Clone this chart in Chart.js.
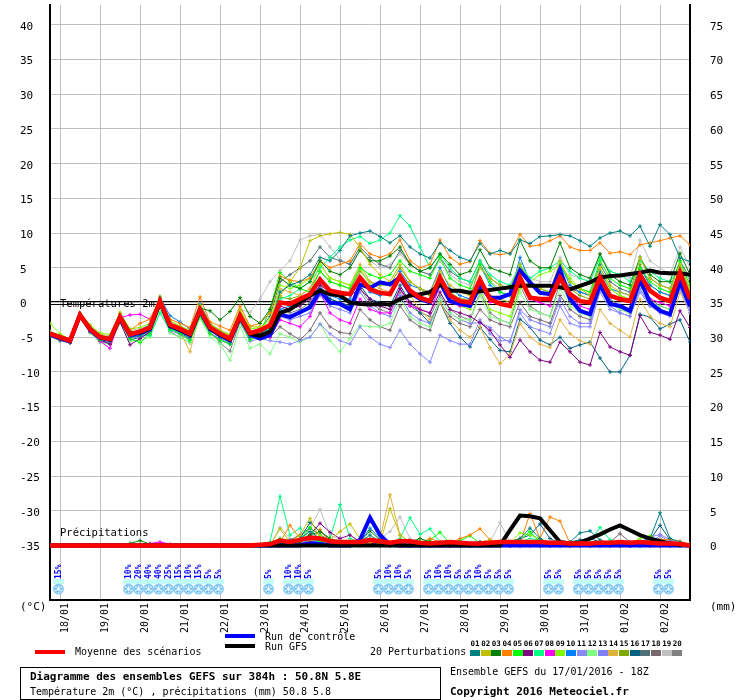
<!DOCTYPE html>
<html>
<head>
<meta charset="utf-8">
<script src="https://cdn.jsdelivr.net/npm/chart.js@4.4.1/dist/chart.umd.min.js"></script>
<style>
  body { margin: 0; background: #fff; }
  #wrap { position: relative; width: 740px; height: 700px; font-family: "DejaVu Sans Mono", monospace; color: #000; overflow: hidden; }
  #c { position: absolute; left: 0; top: 0; }
  .t { position: absolute; white-space: pre; font-size: 10px; line-height: 12px; }
  .b { font-weight: bold; font-size: 11px; }
  .ln { position: absolute; height: 4px; width: 30px; }
  .sw { position: absolute; top: 650px; height: 6px; width: 10px; }
  .num { position: absolute; top: 640px; font-size: 7.5px; font-weight: bold; line-height: 8px; width: 11px; text-align: center; }
  #box { position: absolute; left: 20px; top: 667px; width: 421px; height: 33px; box-sizing: border-box; border: 1px solid #000; }
</style>
</head>
<body>
<div id="wrap">
  <canvas id="c" width="740" height="700"></canvas>
  <div class="t" style="left:20px;top:601px;font-size:11px;">(°C)</div>
  <div class="t" style="left:710px;top:601px;font-size:11px;">(mm)</div>
  <div class="ln" style="left:225px;top:634px;background:#0000ff;"></div>
  <div class="t" style="left:265px;top:631px;">Run de contrôle</div>
  <div class="ln" style="left:225px;top:644px;background:#000;"></div>
  <div class="t" style="left:265px;top:641px;">Run GFS</div>
  <div class="ln" style="left:35px;top:650px;background:#ff0000;"></div>
  <div class="t" style="left:75px;top:646px;">Moyenne des scénarios</div>
  <div class="t" style="left:370px;top:646px;">20 Perturbations</div>
  <div id="swatches"></div>
  <div id="box"></div>
  <div class="t b" style="left:30px;top:671px;">Diagramme des ensembles GEFS sur 384h : 50.8N 5.8E</div>
  <div class="t" style="left:30px;top:686px;">Température 2m (°C) , précipitations (mm) 50.8 5.8</div>
  <div class="t" style="left:450px;top:666px;">Ensemble GEFS du 17/01/2016 - 18Z</div>
  <div class="t b" style="left:450px;top:686px;">Copyright 2016 Meteociel.fr</div>
</div>
<script>
// GEFS ensemble 17/01/2016 18Z, point 50.8N 5.8E — 2m temperature (°C) and precipitation (mm)
// one value every 6 h from +0 h to +384 h

const forecastHours = [0,6,12,18,24,30,36,42,48,54,60,66,72,78,84,90,96,102,108,114,120,126,132,138,144,150,156,162,168,174,180,186,192,198,204,210,216,222,228,234,240,246,252,258,264,270,276,282,288,294,300,306,312,318,324,330,336,342,348,354,360,366,372,378,384];

const dayTicks = [6,30,54,78,102,126,150,174,198,222,246,270,294,318,342,366];
const dayLabels = ['18/01','19/01','20/01','21/01','22/01','23/01','24/01','25/01','26/01','27/01','28/01','29/01','30/01','31/01','01/02','02/02'];
const tempTicks = [-35,-30,-25,-20,-15,-10,-5,0,5,10,15,20,25,30,35,40];
const precipTicks = [0,5,10,15,20,25,30,35,40,45,50,55,60,65,70,75];

// snow probability icons
const snowHours = [6, 48,54,60,66,72,78,84,90,96,102, 132, 144,150,156, 198,204,210,216, 228,234,240,246,252,258,264,270,276, 300,306, 318,324,330,336,342, 366,372];
const snowPct   = [15, 10,20,40,40,25,15,10,15,5,5, 5, 10,10,5, 5,10,10,5, 5,10,10,5,5,10,5,5,5, 5,5, 5,5,5,5,5, 5,5];

const memberColors = ['#008080','#c0c000','#008000','#ff8000','#00ff00','#800080','#00ff80','#ff00ff','#80ff00','#0080ff',
                      '#8888ff','#80ff80','#8080ff','#e0b040','#80a800','#006080','#507078','#786870','#c0c0c0','#808080'];

// ---- temperature 2m ----
const tempMean = [-4.5,-5.0,-5.5,-1.8,-3.8,-5.0,-5.3,-2.1,-4.6,-4.2,-3.6,0.2,-3.2,-3.8,-4.5,-1.0,-3.6,-4.5,-5.2,-1.9,-4.4,-4.0,
  -3.3,0.0,-0.2,0.5,1.2,3.3,1.7,1.4,1.2,3.6,1.9,1.4,1.2,3.8,1.7,0.7,0.2,3.6,1.0,0.2,0.0,3.3,0.5,-0.2,-0.5,3.6,0.7,0.5,0.5,3.6,1.2,0.2,0.0,3.6,1.0,0.5,0.2,4.0,1.7,0.7,0.2,4.3,0.5];
const tempControl = [-4.6,-5.1,-5.6,-1.8,-3.9,-5.1,-5.4,-2.2,-4.7,-4.4,-3.8,0.1,-3.4,-4.0,-4.7,-1.2,-3.8,-4.7,-5.4,-2.1,-4.6,-5.2,
  -4.7,-1.7,-2.1,-1.4,-0.7,1.7,0.0,-0.2,-1.0,2.6,2.1,2.9,2.6,3.6,1.4,0.5,0.0,2.9,0.2,-0.2,-0.5,2.4,0.7,0.7,1.2,4.6,2.9,1.4,1.2,4.8,0.5,-1.2,-1.7,2.6,-0.2,-0.5,-1.2,3.3,0.0,-1.2,-1.7,3.0,-0.5];
const tempGfs = [-4.5,-5.0,-5.5,-1.8,-3.8,-5.0,-5.3,-2.1,-4.5,-4.3,-3.7,0.1,-3.3,-3.9,-4.6,-1.1,-3.7,-4.6,-5.3,-2.0,-4.5,-4.8,
  -4.2,-1.5,-1.0,0.0,1.0,1.7,1.2,1.0,0.0,-0.2,-0.3,-0.2,-0.3,0.5,1.0,1.2,1.5,2.6,1.7,1.7,1.4,1.6,1.8,2.0,2.2,2.4,2.4,2.4,2.4,2.2,1.9,2.4,2.9,3.6,3.8,3.9,4.1,4.3,4.6,4.3,4.2,4.2,4.0];

const tempP01 = [-4.8,-5.2,-5.6,-1.9,-3.9,-5.2,-5.6,-2.4,-5.0,-4.8,-4.0,0.0,-3.6,-4.2,-5.0,-1.5,-4.0,-5.0,-5.8,-2.4,-5.0,-4.6,
  -3.5,1.5,2.5,3.0,4.0,6.5,6.0,7.5,9.6,10.0,10.3,9.5,8.6,9.6,8.0,7.0,6.4,8.6,7.5,6.5,6.0,8.5,7.0,7.5,7.0,9.0,8.5,9.5,9.6,9.8,9.6,8.9,8.1,9.3,10.0,10.3,9.6,11.0,8.1,11.2,9.8,6.4,5.9];
const tempP02 = [-4.2,-4.8,-5.4,-1.6,-3.5,-4.6,-5.0,-1.8,-4.2,-4.0,-3.3,0.4,-3.0,-3.5,-4.2,-0.6,-3.2,-4.0,-4.8,-1.2,-3.5,-3.5,
  -3.0,1.0,3.0,5.0,8.9,9.6,9.9,10.1,9.8,7.9,5.5,4.0,3.0,5.5,3.0,2.0,1.5,4.5,2.5,1.5,1.0,5.0,3.5,2.5,2.0,5.5,3.0,2.0,1.5,6.0,3.0,2.0,1.0,5.0,2.5,1.5,1.0,6.5,3.5,2.5,2.0,5.5,2.0];
const tempP03 = [-4.6,-5.1,-5.5,-1.7,-3.6,-5.0,-5.4,-2.0,-4.4,-4.6,-3.2,0.5,-3.0,-3.8,-4.4,-0.8,-1.2,-2.5,-1.3,0.7,-2.0,-3.0,
  -1.0,3.5,2.5,2.0,3.0,6.0,4.5,4.0,5.0,7.5,6.0,6.0,6.7,8.0,5.5,4.5,5.0,7.0,5.5,4.0,4.5,7.6,5.0,4.5,4.0,9.0,6.0,5.0,5.0,8.6,5.0,4.0,3.5,7.0,4.0,3.0,2.5,6.5,4.0,3.0,3.0,7.1,4.0];
const tempP04 = [-4.4,-5.0,-5.4,-1.6,-3.4,-4.8,-5.0,-1.6,-4.0,-3.0,-2.4,0.6,-2.4,-3.0,-3.6,0.8,-2.8,-3.4,-4.0,-0.5,-3.4,-3.0,
  -1.5,3.8,3.2,3.0,3.5,6.0,5.0,5.5,6.0,8.5,7.0,6.5,7.0,9.0,6.0,5.0,5.5,9.0,6.5,5.5,5.9,8.9,7.1,6.9,7.1,9.8,8.1,8.3,8.9,9.6,8.0,7.5,7.5,8.6,7.1,7.3,6.9,8.3,8.6,8.9,9.3,9.6,8.3];
const tempP05 = [-4.6,-5.2,-5.7,-2.0,-4.0,-5.4,-5.6,-2.6,-5.2,-5.8,-4.5,-0.5,-3.8,-4.5,-5.5,-2.0,-4.5,-5.4,-6.0,-2.6,-5.4,-4.5,
  -1.0,4.3,3.0,2.0,1.5,4.5,3.0,2.5,2.0,5.0,4.0,3.5,4.0,6.0,4.5,4.0,3.5,6.5,3.5,2.5,2.0,5.5,3.0,1.5,1.0,5.0,2.5,2.0,1.5,5.5,3.0,2.0,1.5,6.0,3.5,2.5,2.0,5.0,3.0,2.0,1.5,6.0,2.5];
const tempP06 = [-4.8,-5.4,-5.8,-2.2,-4.2,-5.4,-6.0,-2.8,-6.1,-5.2,-4.2,-0.2,-3.6,-4.0,-4.8,-1.5,-4.0,-5.0,-5.6,-2.4,-4.8,-4.4,
  -3.5,-0.5,-1.0,-0.5,0.5,2.5,1.5,1.0,1.0,2.0,0.5,-0.5,-1.0,2.0,0.0,-1.0,-1.5,1.5,-1.0,-1.5,-2.0,-2.9,-4.0,-6.1,-7.9,-5.4,-7.1,-8.3,-8.6,-5.7,-7.1,-8.6,-9.0,-4.3,-6.4,-7.1,-7.6,-1.9,-4.3,-4.7,-5.3,-1.2,-3.6];
const tempP07 = [-4.5,-5.0,-5.5,-1.7,-3.7,-4.8,-5.2,-2.0,-4.4,-4.6,-4.8,-1.5,-4.0,-4.0,-4.6,-1.0,-3.8,-4.6,-5.4,-1.8,-4.6,-4.2,
  -3.8,0.5,1.0,2.0,3.0,5.0,6.5,8.0,9.0,9.5,8.5,9.0,10.0,12.5,11.0,8.0,5.0,7.0,5.0,3.5,3.0,6.0,4.0,3.0,2.5,5.5,3.5,4.5,5.0,6.0,4.5,3.5,3.0,6.5,4.5,4.0,3.0,6.0,4.5,3.5,3.0,5.0,2.0];
const tempP08 = [-4.4,-4.9,-5.4,-1.6,-3.8,-5.6,-6.6,-2.2,-1.8,-1.7,-2.4,0.4,-3.0,-3.6,-4.2,-0.8,-3.4,-4.4,-5.0,-1.6,-4.2,-4.8,
  -5.0,-2.5,-3.0,-3.5,-2.0,1.5,-1.5,-2.5,-3.0,0.5,-1.0,-1.5,-1.5,2.0,-0.5,-1.0,-1.5,2.5,0.0,-0.5,-0.5,2.5,0.0,0.0,-0.5,3.5,0.5,0.0,-0.5,4.8,1.0,-0.5,-1.0,3.0,0.0,-0.5,-1.0,3.5,0.5,0.0,-0.5,3.0,0.0];
const tempP09 = [-3.0,-4.5,-5.3,-1.5,-3.2,-4.4,-4.6,-1.4,-3.8,-3.6,-3.0,0.9,-2.6,-3.4,-4.0,-0.4,-3.0,-4.0,-4.6,-1.0,-3.8,-3.6,
  -2.5,2.5,2.0,2.5,3.5,5.5,3.5,3.0,2.5,5.0,2.5,1.5,1.0,4.0,1.5,0.5,0.0,3.0,0.5,-0.5,-1.0,2.0,-1.0,-1.5,-2.0,2.0,3.0,4.0,4.5,5.5,3.5,2.0,1.5,5.0,2.0,1.0,0.5,4.0,1.5,0.5,0.0,3.5,1.0];
const tempP10 = [-4.6,-5.2,-5.6,-1.8,-4.0,-5.2,-5.4,-1.9,-4.4,-4.0,-3.2,0.8,-1.9,-2.8,-3.8,-0.2,-3.0,-4.2,-5.0,-1.6,-4.2,-4.2,
  -4.0,-1.0,-0.5,0.0,1.0,3.5,1.0,0.5,0.5,3.5,1.5,1.0,1.5,4.5,2.5,2.0,1.5,5.0,2.0,1.0,0.5,5.5,2.5,1.5,1.0,6.5,3.0,2.0,1.5,5.5,2.5,1.5,1.0,4.5,2.0,1.5,1.0,5.0,2.5,1.5,1.0,4.5,1.0];
const tempP11 = [-4.7,-5.3,-5.6,-2.0,-4.2,-5.6,-5.8,-2.6,-5.0,-5.0,-4.6,-0.6,-4.0,-4.6,-5.4,-1.8,-4.4,-5.2,-6.0,-2.8,-5.6,-5.2,
  -5.5,-5.7,-6.0,-5.5,-5.0,-3.1,-4.5,-5.5,-6.0,-3.5,-5.0,-6.0,-6.5,-4.0,-6.0,-7.4,-8.6,-4.7,-5.5,-6.0,-6.0,-2.5,-4.5,-5.5,-5.5,-1.5,-3.5,-4.0,-4.5,-0.5,-3.0,-3.5,-3.5,1.5,-1.0,-1.5,-2.0,2.0,-0.5,-1.0,-1.5,2.5,-1.0];
const tempP12 = [-4.8,-5.4,-5.8,-2.2,-4.4,-5.8,-6.0,-3.0,-5.6,-5.4,-5.0,-1.0,-4.4,-5.0,-5.8,-2.2,-5.0,-6.0,-8.3,-3.4,-6.6,-6.0,
  -7.4,-4.5,-5.0,-5.7,-5.0,-3.1,-5.5,-7.1,-5.2,-3.3,-3.5,-3.5,-3.0,0.5,-2.0,-3.0,-3.5,0.5,-1.5,-2.5,-2.5,1.0,-2.0,-2.5,-3.0,1.5,-1.0,-1.5,-2.0,2.0,-0.5,-1.5,-2.0,2.5,0.0,-1.0,-1.5,2.0,0.0,-0.5,-1.0,3.0,0.0];
const tempP13 = [-4.6,-5.1,-5.5,-1.9,-3.8,-5.0,-5.2,-2.3,-4.8,-4.4,-3.8,0.0,-3.4,-4.0,-4.8,-1.2,-3.8,-4.8,-5.4,-2.2,-4.8,-4.5,
  -4.5,-2.0,-2.5,-2.0,-1.5,1.0,-0.5,-1.0,-1.5,1.5,-0.5,-1.5,-2.0,1.0,-1.5,-2.5,-3.0,0.5,-1.5,-2.5,-3.0,-2.9,-3.6,-5.0,-5.7,-1.0,-2.5,-3.0,-3.5,0.5,-2.0,-3.0,-3.0,2.0,-0.5,-1.5,-2.0,1.5,-0.5,-1.5,-2.0,2.0,-1.5];
const tempP14 = [-4.4,-5.0,-5.4,-1.8,-3.6,-4.8,-5.0,-2.0,-4.6,-4.0,-3.4,0.2,-3.4,-4.2,-7.1,-1.4,-4.0,-4.8,-5.4,-2.0,-4.5,-4.0,
  -3.0,2.0,1.5,1.0,2.0,5.5,3.5,3.0,2.5,5.5,3.0,2.0,1.5,4.0,1.0,-1.0,-2.5,0.0,-2.5,-4.0,-5.0,-3.5,-6.5,-8.8,-7.5,-3.0,-5.0,-6.0,-6.5,-2.5,-4.5,-5.5,-6.0,-1.0,-3.0,-4.0,-5.0,0.5,-2.0,-3.0,-3.5,1.5,-1.5];
const tempP15 = [-4.5,-5.1,-5.5,-1.8,-3.8,-5.1,-5.4,-2.1,-4.6,-4.3,-3.6,0.3,-3.2,-3.8,-4.5,-1.0,-3.6,-4.6,-5.2,-1.8,-4.4,-4.0,
  -3.0,0.8,0.5,1.0,2.0,4.5,3.0,2.5,2.0,4.5,3.0,2.5,2.5,5.0,3.0,2.0,1.0,4.0,1.5,0.5,0.5,3.5,1.0,0.5,0.0,3.0,1.0,0.5,0.5,4.0,2.0,1.0,0.5,4.5,2.0,1.0,0.5,5.5,2.5,1.5,1.0,5.0,1.5];
const tempP16 = [-4.9,-5.5,-5.8,-2.2,-4.3,-5.5,-5.8,-2.6,-5.4,-5.0,-4.4,-0.4,-3.8,-4.4,-5.2,-1.8,-4.4,-5.4,-6.0,-2.6,-5.0,-4.8,
  -4.5,-1.5,-2.0,-1.5,-0.5,2.0,0.5,0.0,-0.5,2.5,0.5,0.0,-0.5,2.5,0.0,-1.5,-3.0,0.0,-3.0,-5.0,-6.4,-3.6,-5.3,-6.9,-7.1,-2.4,-3.6,-5.4,-6.1,-5.0,-6.6,-6.1,-5.7,-8.0,-10.0,-10.0,-7.6,-1.7,-2.1,-3.8,-3.1,-2.5,-5.7];
const tempP17 = [-4.3,-4.9,-5.4,-1.7,-3.6,-4.9,-5.2,-2.0,-4.4,-4.2,-3.6,0.4,-3.2,-3.8,-4.4,-0.6,-3.4,-4.4,-5.0,-1.4,-4.2,-3.8,
  -2.0,3.0,4.0,5.0,6.0,8.0,6.5,6.0,5.5,8.0,6.5,5.5,5.0,7.5,5.5,4.5,4.0,6.5,4.5,3.5,3.0,6.0,3.5,2.5,2.0,5.5,2.5,1.5,1.0,4.5,2.0,1.5,1.0,5.5,3.0,2.0,1.5,6.5,3.5,2.5,2.0,6.0,3.5];
const tempP18 = [-4.6,-5.2,-5.6,-1.9,-4.0,-5.2,-5.4,-2.2,-4.6,-4.4,-3.8,0.0,-3.4,-4.0,-4.8,-1.4,-3.8,-4.8,-5.4,-2.0,-4.6,-4.4,
  -5.0,-3.5,-4.5,-5.4,-4.0,-1.5,-3.5,-4.3,-4.5,-1.0,-2.5,-3.5,-4.0,-0.5,-2.5,-3.5,-4.0,0.0,-2.0,-3.0,-3.5,-1.0,-2.5,-3.1,-3.5,0.0,-2.0,-2.5,-3.0,1.0,-1.0,-2.0,-2.5,2.0,0.0,-1.0,-1.5,2.5,0.5,-0.5,-1.0,3.0,0.5];
const tempP19 = [-4.2,-4.8,-5.3,-1.5,-3.4,-4.6,-4.8,-1.6,-4.0,-3.8,-3.2,0.6,-2.8,-3.4,-4.0,-0.4,-3.0,-4.0,-4.6,-1.0,-1.4,0.5,
  3.0,4.6,6.0,9.0,9.6,9.8,8.0,6.2,5.5,7.5,6.0,5.0,5.5,7.0,5.5,4.5,4.0,6.0,4.0,3.0,2.5,5.0,3.0,2.0,2.0,5.0,3.5,3.0,3.0,6.5,4.0,3.5,3.0,7.0,4.5,4.0,3.5,9.0,6.0,5.0,4.0,8.0,5.0];
const tempP20 = [-4.7,-5.3,-5.7,-2.1,-4.1,-5.6,-6.0,-2.5,-5.2,-4.8,-4.2,-0.6,-4.2,-5.0,-5.8,-1.6,-4.2,-5.8,-7.0,-2.8,-5.4,-4.8,
  -4.5,-1.0,-1.5,-1.0,0.0,2.5,0.5,0.0,-0.5,2.0,0.0,-1.0,-1.5,1.5,-0.5,-1.5,-2.0,1.0,-1.0,-2.0,-2.5,1.5,-1.5,-2.5,-3.0,2.5,-0.5,-1.5,-2.0,3.0,0.0,-1.0,-1.5,3.5,0.5,-0.5,-1.0,3.0,0.0,-1.0,-1.5,2.5,-1.0];

// ---- precipitation (mm / 6 h) ----
const precMean = [0,0,0,0,0,0,0,0,0,0,0,0,0,0,0,0,0,0,0,0,0,0.1,
  0.2,0.7,0.5,0.8,1.1,1.0,0.6,0.5,0.5,0.5,0.8,0.6,0.4,0.6,0.6,0.4,0.3,0.4,0.5,0.4,0.3,0.3,0.4,0.5,0.5,0.5,0.5,0.5,0.4,0.4,0.3,0.3,0.3,0.4,0.4,0.5,0.4,0.5,0.4,0.3,0.3,0.2,0.0];
const precControl = [0,0,0,0,0,0,0,0,0,0,0,0,0,0,0,0,0,0,0,0,0,0,
  0,0,0,0,0.3,0.2,0,0,0,0.8,4.0,1.5,0.1,0,0,0,0,0,0,0,0,0,0,0,0,0,0,0,0,0,0,0,0,0,0,0,0,0,0,0,0,0,0];
const precGfs = [0,0,0,0,0,0,0,0,0,0,0,0,0,0,0,0,0,0,0,0,0,0,
  0,0,0,0,0,0,0,0,0,0,0,0,0,0,0,0,0,0,0,0,0,0,0,0,2.2,4.3,4.2,3.9,2.2,0.5,0.3,0.4,1.0,1.6,2.3,2.9,2.2,1.5,1.0,0.6,0.3,0.1,0];

const precP01 = [0,0,0,0,0,0,0,0,0,0,0,0,0,0,0,0,0,0,0,0,0,0,
  0,0.3,0.5,1.0,2.0,1.0,0.5,0.3,0.2,0.5,1.5,0.5,0.2,0.3,0.5,0.2,0,0.3,0.2,0,0.2,0.5,0.3,0.2,0.5,1.0,2.5,1.0,0.3,0.2,0.5,1.8,2.1,0.8,0.3,0.2,0.3,0.5,1.0,4.7,1.0,0.5,0.1];
const precP02 = [0,0,0,0,0,0,0,0,0,0,0,0,0,0,0,0,0,0,0,0,0,0,
  0,2.4,0.5,1.5,3.9,1.0,0.8,2.0,3.1,1.0,0.5,0.3,5.3,1.5,0.5,0.3,0.2,0.5,0.3,0.2,0.1,0.5,0.8,0.3,0.2,0,0,0.2,0.3,0,0,0,0.2,0.3,0,0,0.2,0.5,0.3,0.2,0,0,0];
const precP03 = [0,0,0,0,0,0,0,0,0.3,0.7,0.2,0,0,0,0,0,0,0,0,0,0,0,
  0,0.2,0.3,0.5,1.5,2.0,1.0,0.5,0.3,0.5,2.1,0.8,0.3,0.2,0.5,1.0,0.5,0.2,0.3,0,0,0.5,0.3,0,0.2,0.5,0.3,0,0,0.2,0,0,0,0.2,0,0,0,0.3,0.2,0,0,0,0];
const precP04 = [0,0,0,0,0,0,0,0,0,0,0,0,0,0,0,0,0,0,0,0,0,0,
  0,0.5,2.9,1.0,0.5,2.3,0.5,0.2,0,0.3,0.2,0,0.3,0.8,0.5,0.3,1.0,0.5,0.3,1.0,1.5,2.4,0.8,0.3,0.3,0.3,4.6,1.0,4.1,3.5,0.3,0.2,0,0,0.2,0.5,0.3,0.2,0.5,0.8,0.9,0.6,0.2];
const precP05 = [0,0,0,0,0,0,0,0,0,0,0,0,0,0,0,0,0,0,0,0,0,0,
  0.3,1.0,0.5,0.8,2.6,0.5,1.0,0.5,0.2,0.3,1.0,0.5,0,0.2,0.5,0.5,0.8,1.9,0.3,0.7,1.4,0.3,0.3,0.2,0.5,0.8,2.0,0.5,0.2,0,0,0.2,0,0.3,0,0,0.2,0.5,0.8,0.3,0,0,0];
const precP06 = [0,0,0,0,0,0,0,0,0,0,0,0,0,0,0,0,0,0,0,0,0,0,
  0,0.2,0.5,0.8,1.5,3.2,1.9,1.0,1.5,0.5,0.3,0.2,0,0,0,0.2,0,0,0,0,0,0.3,0,0,0,0,0.2,0,0,0,0,0,0,0,0,0,0,0.2,0,0,0,0,0];
const precP07 = [0,0,0,0,0,0,0,0,0,0,0,0,0,0,0,0,0,0,0,0,0,0,
  0.5,7.1,1.5,2.5,1.0,0.5,1.0,5.9,1.0,0.5,0.8,0.5,0.3,1.0,4.0,1.6,2.4,0.5,0.3,0.2,0.2,0.3,0.2,0.2,0.3,0.5,1.0,0.8,0.3,0.2,0.2,0.3,0.5,2.6,0.8,0.3,0.2,0.3,0.2,0,0,0,0];
const precP08 = [0,0,0,0,0,0,0,0,0,0,0.3,0.5,0.2,0,0,0,0,0,0,0,0,0,
  0,0,0.2,0.3,0.5,0.3,0.2,0,0,0.2,0.3,0,0,0,0.2,0,0,0,0,0,0,0,0,0.2,0,0,0,0,0,0.2,0,0,0,0,0,0,0,0,0,0,0,0,0];
const precP09 = [0,0,0,0,0,0,0,0,0,0,0,0,0,0,0,0,0,0,0,0,0,0,
  0,0.3,0.2,0.3,0.5,1.5,0.5,0.2,0,0,0.2,0,0,0.3,0.5,0.3,0.5,0.3,0.5,0.2,0,0.2,0,0,0.3,1.8,1.5,1.0,0.3,0,0,0,0,0.2,0,0,0.3,1.0,1.4,0.5,0.2,0,0];
const precP10 = [0,0,0,0,0,0,0,0,0,0,0,0,0,0,0,0,0,0,0,0,0,0,
  0,0.2,0.3,0.3,0.8,0.5,0.2,0,0.2,0.5,2.5,1.0,0.2,0,0,0,0,0,0,0,0,0,0,0,0,0.2,0.3,0,0,0,0,0,0,0,0,0,0,0,0.2,0.5,0.3,0,0];
const precP11 = [0,0,0,0,0,0,0,0,0,0,0,0,0,0,0,0,0,0,0,0,0,0,
  0,0,0.2,0.3,0.5,0.3,0.2,0,0,0,0.3,0.2,0,0,0,0,0,0,0,0,0,0,0,0,0,0,0,0,0,0,0,0,0,0,0,0,0,0.2,0.5,1.4,0.5,0,0];
const precP12 = [0,0,0,0,0,0,0,0,0,0,0,0,0,0,0,0,0,0,0,0,0,0,
  0,0.2,0,0.2,0.3,0.5,0.2,0,0,0,0,0,0,0,0,0.2,0.3,0.2,0,0,0,0,0,0,0,0,0,0,0,0,0,0,0,0,0,0,0,0,0,0,0,0,0];
const precP13 = [0,0,0,0,0,0,0,0,0,0,0, 0,0,0,0,0,0,0,0,0,0,0,
  0,0,0,0.2,0.5,0.8,0.3,0,0,0,
  0.2,0,0,0,0,0,0,0,0,0,
  0,0,0,0,0,0,0.2,0.3,0,0,
  0,0,0,0,0,0,0.2,0.5,1.2,1.6,
  0.8,0.2,0];
const precP14 = [0,0,0,0,0,0,0,0,0,0,0, 0,0,0,0,0,0,0,0,0,0,0,
  0,0.3,0.5,1.0,1.5,1.0,0.5,0.3,0.5,0.4,
  0.5,1.0,7.3,1.5,0.5,0.3,0.2,0,0,0,
  0,0,0,0,0,0,0,0,0,0,
  0,0,0,0,0,0,0,0,0,0,
  0,0,0];
const precP15 = [0,0,0,0,0,0,0,0,0,0,0, 0,0,0,0,0,0,0,0,0,0,0,
  0,0.2,0.3,0.3,0.5,0.3,0.2,0,0,0.2,
  0.3,0.2,0,0,0,0,0,0,0,0,
  0,0,0,0,0,0.2,0.3,0.2,0,0,
  0,0,0,0,0,0,0,0.2,0.5,0.3,
  0,0,0];
const precP16 = [0,0,0,0,0,0,0,0,0,0,0, 0,0,0,0,0,0,0,0,0,0,0,
  0,0.3,0.5,1.0,3.3,2.0,1.0,0.5,0.3,0.2,
  0.5,0.3,0,0,0,0,0,0,0,0,
  0,0,0,0,0.5,1.0,1.5,3.1,1.0,0.3,
  0.5,0.8,1.0,0.5,0.2,0,0,0.3,0.8,2.9,
  0.8,0.2,0];
const precP17 = [0,0,0,0,0,0,0,0,0,0,0, 0,0,0,0,0,0,0,0,0,0,0,
  0,0.5,0.8,1.5,2.5,1.5,0.8,0.5,0.3,0.2,
  0.5,0.2,0,0,0,0,0,0,0,0,
  0,0,0,0,0,0,0.2,0.2,0,0,
  0,0,0,0,0,0,0,0,0.3,0.5,
  0.2,0,0];
const precP18 = [0,0,0,0,0,0,0,0,0,0,0, 0,0,0,0,0,0,0,0,0,0,0,
  0,0,0.2,0.2,0.5,0.3,0,0,0,0,
  0,0,0,0,0,0,0,0,0,0,
  0,0,0,0,0,0,0,0,0,0,
  0,0,0,0,0.5,1.7,0.5,0.2,0,0.3,
  0.2,0,0];
const precP19 = [0,0,0,0,0,0,0,0,0,0,0, 0,0,0,0,0,0,0,0,0,0,0,
  0,2.6,1.0,0.5,2.5,5.2,1.5,0.8,0.5,0.3,
  0.5,1.0,2.0,4.1,1.0,0.3,0.2,0.3,0.2,0.2,
  0.2,0.3,0.5,3.3,0.5,0.2,0,0,0,0,
  0,0,0,0,0,0,0,0,0.3,1.0,
  0.3,0,0];
const precP20 = [0,0,0,0,0,0,0,0,0,0,0, 0,0,0,0,0,0,0,0,0,0,0,
  0,1.0,0.5,0.3,1.5,1.0,0.5,0.2,0,0,
  0.3,0.2,0,0,0,0,0,0,0,0,
  0,0,0,0,0,0,0,0,0,0,
  0,0,0,0,0,0,0,0,0.2,0.3,
  0,0,0];

const tempMembers = [tempP01,tempP02,tempP03,tempP04,tempP05,tempP06,tempP07,tempP08,tempP09,tempP10,
                     tempP11,tempP12,tempP13,tempP14,tempP15,tempP16,tempP17,tempP18,tempP19,tempP20];
const precMembers = [precP01,precP02,precP03,precP04,precP05,precP06,precP07,precP08,precP09,precP10,
                     precP11,precP12,precP13,precP14,precP15,precP16,precP17,precP18,precP19,precP20];

// sanity check on series length
const bad = [];
[tempMean,tempControl,tempGfs,precMean,precControl,precGfs].concat(tempMembers, precMembers).forEach(function (s, i) {
    if (s.length !== forecastHours.length) bad.push(i + ':' + s.length);
});
if (bad.length) throw new Error('bad series ' + bad.join(' '));

// ---- legend swatches at the bottom ----
const swBox = document.getElementById('swatches');
memberColors.forEach(function (col, k) {
    const left = 470 + k * 10.65;
    const sw = document.createElement('div');
    sw.className = 'sw';
    sw.style.left = left + 'px';
    sw.style.background = col;
    swBox.appendChild(sw);
    const n = document.createElement('div');
    n.className = 'num';
    n.style.left = (left - 0.5) + 'px';
    n.textContent = String(k + 1).padStart(2, '0');
    swBox.appendChild(n);
});

// ---- datasets ----
const datasets = [
    { data: tempMean, yAxisID: 'y', borderColor: '#ff0000', borderWidth: 4.5, pointRadius: 0, order: 0 },
    { data: precMean, yAxisID: 'y2', borderColor: '#ff0000', borderWidth: 4.5, pointRadius: 0, order: 0 },
    { data: tempGfs, yAxisID: 'y', borderColor: '#000000', borderWidth: 4, pointRadius: 0, order: 1 },
    { data: precGfs, yAxisID: 'y2', borderColor: '#000000', borderWidth: 4, pointRadius: 0, order: 1 },
    { data: tempControl, yAxisID: 'y', borderColor: '#0000ff', borderWidth: 4, pointRadius: 0, order: 2 },
    { data: precControl, yAxisID: 'y2', borderColor: '#0000ff', borderWidth: 4, pointRadius: 0, order: 2 },
];
for (let k = 0; k < tempMembers.length; k++) {
    const base = { borderColor: memberColors[k], backgroundColor: memberColors[k], borderWidth: 1,
                   pointStyle: 'cross', pointRadius: 2, pointBorderWidth: 1, order: 3 };
    datasets.push(Object.assign({ data: tempMembers[k], yAxisID: 'y' }, base));
    datasets.push(Object.assign({ data: precMembers[k], yAxisID: 'y2' }, base));
}

const FONT = '"DejaVu Sans Mono", monospace';

function drawFlake(ctx, x, y) {
    ctx.fillStyle = '#8fcff2';
    ctx.beginPath();
    ctx.arc(x, y, 5.5, 0, Math.PI * 2);
    ctx.fill();
    ctx.strokeStyle = '#e8f8ff';
    ctx.lineWidth = 1;
    ctx.beginPath();
    for (let a = 0; a < 3; a++) {
        const ang = a * Math.PI / 3 + Math.PI / 2;
        ctx.moveTo(x - 4 * Math.cos(ang), y - 4 * Math.sin(ang));
        ctx.lineTo(x + 4 * Math.cos(ang), y + 4 * Math.sin(ang));
    }
    ctx.stroke();
    ctx.fillStyle = '#3d8fe0';
    ctx.fillRect(x - 3, y - 1, 1, 1);
    ctx.fillRect(x + 2, y - 1, 1, 1);
    ctx.fillRect(x - 1, y + 2, 1, 1);
    ctx.fillRect(x - 1, y - 4, 1, 1);
}

const overlay = {
    id: 'overlay',
    beforeDatasetsDraw(chart) {
        const ctx = chart.ctx;
        const xs = chart.scales.x, ys = chart.scales.y, ps = chart.scales.y2;
        const area = chart.chartArea;
        ctx.save();
        // 0°C reference, drawn as a double black line
        const y0 = Math.round(ys.getPixelForValue(0));
        ctx.strokeStyle = '#000';
        ctx.lineWidth = 1;
        ctx.beginPath();
        ctx.moveTo(area.left, y0 - 1.5); ctx.lineTo(area.right, y0 - 1.5);
        ctx.moveTo(area.left, y0 + 1.5); ctx.lineTo(area.right, y0 + 1.5);
        ctx.stroke();

        ctx.fillStyle = '#000';
        ctx.font = '10.5px ' + FONT;
        ctx.textAlign = 'left';
        ctx.textBaseline = 'alphabetic';
        ctx.fillText('Températures 2m', xs.getPixelForValue(6), y0 + 4);
        ctx.fillText('Précipitations', xs.getPixelForValue(6), ps.getPixelForValue(0) - 9);

        // snow probability
        for (let k = 0; k < snowHours.length; k++) {
            const x = Math.round(xs.getPixelForValue(snowHours[k])) - 2;
            ctx.fillStyle = '#c4ffff';
            ctx.fillRect(x - 5, 579, 11, 5);
        }
        for (let k = 0; k < snowHours.length; k++) {
            const x = Math.round(xs.getPixelForValue(snowHours[k])) - 2;
            drawFlake(ctx, x + 0.5, 589);
            ctx.save();
            ctx.translate(x + 1, 579);
            ctx.rotate(-Math.PI / 2);
            ctx.fillStyle = '#0000ff';
            ctx.font = 'bold 8px ' + FONT;
            ctx.textAlign = 'left';
            ctx.textBaseline = 'middle';
            ctx.fillText(snowPct[k] + '%', 0, 0);
            ctx.restore();
        }
        ctx.restore();
    }
};

const tickFont = { family: FONT, size: 11 };

new Chart(document.getElementById('c'), {
    type: 'line',
    data: { labels: forecastHours, datasets: datasets },
    options: {
        responsive: false,
        animation: false,
        events: [],
        layout: { padding: { left: 20, right: 0, top: 0, bottom: 0 } },
        elements: { line: { tension: 0 } },
        plugins: { legend: { display: false }, tooltip: { enabled: false } },
        scales: {
            x: {
                type: 'linear', min: 0, max: 384, bounds: 'data',
                afterBuildTicks: function (s) { s.ticks = dayTicks.map(function (v) { return { value: v }; }); },
                afterFit: function (s) { s.height = 100; s.paddingLeft = 0; s.paddingRight = 0; },
                grid: { color: '#c0c0c0', drawTicks: false },
                border: { color: '#000', width: 2 },
                ticks: {
                    autoSkip: false, minRotation: 90, maxRotation: 90, padding: 3, labelOffset: 5,
                    color: '#000', font: { family: FONT, size: 10 },
                    callback: function (v, i) { return dayLabels[i]; }
                }
            },
            y: {
                position: 'left', min: -42.857, max: 42.857, bounds: 'data',
                afterBuildTicks: function (s) { s.ticks = tempTicks.map(function (v) { return { value: v }; }); },
                afterFit: function (s) { s.width = 30; s.paddingTop = 0; s.paddingBottom = 0; },
                grid: { color: '#c0c0c0', drawTicks: false },
                border: { color: '#000', width: 2 },
                ticks: { crossAlign: 'far', labelOffset: 2, color: '#000', font: tickFont }
            },
            y2: {
                position: 'right', min: -7.857, max: 77.857, bounds: 'data',
                afterBuildTicks: function (s) { s.ticks = precipTicks.map(function (v) { return { value: v }; }); },
                afterFit: function (s) { s.width = 50; s.paddingTop = 0; s.paddingBottom = 0; },
                grid: { display: false, drawTicks: false },
                border: { color: '#000', width: 2 },
                ticks: { padding: 20, labelOffset: 2, color: '#000', font: tickFont }
            }
        }
    },
    plugins: [overlay]
});
</script>
</body>
</html>
